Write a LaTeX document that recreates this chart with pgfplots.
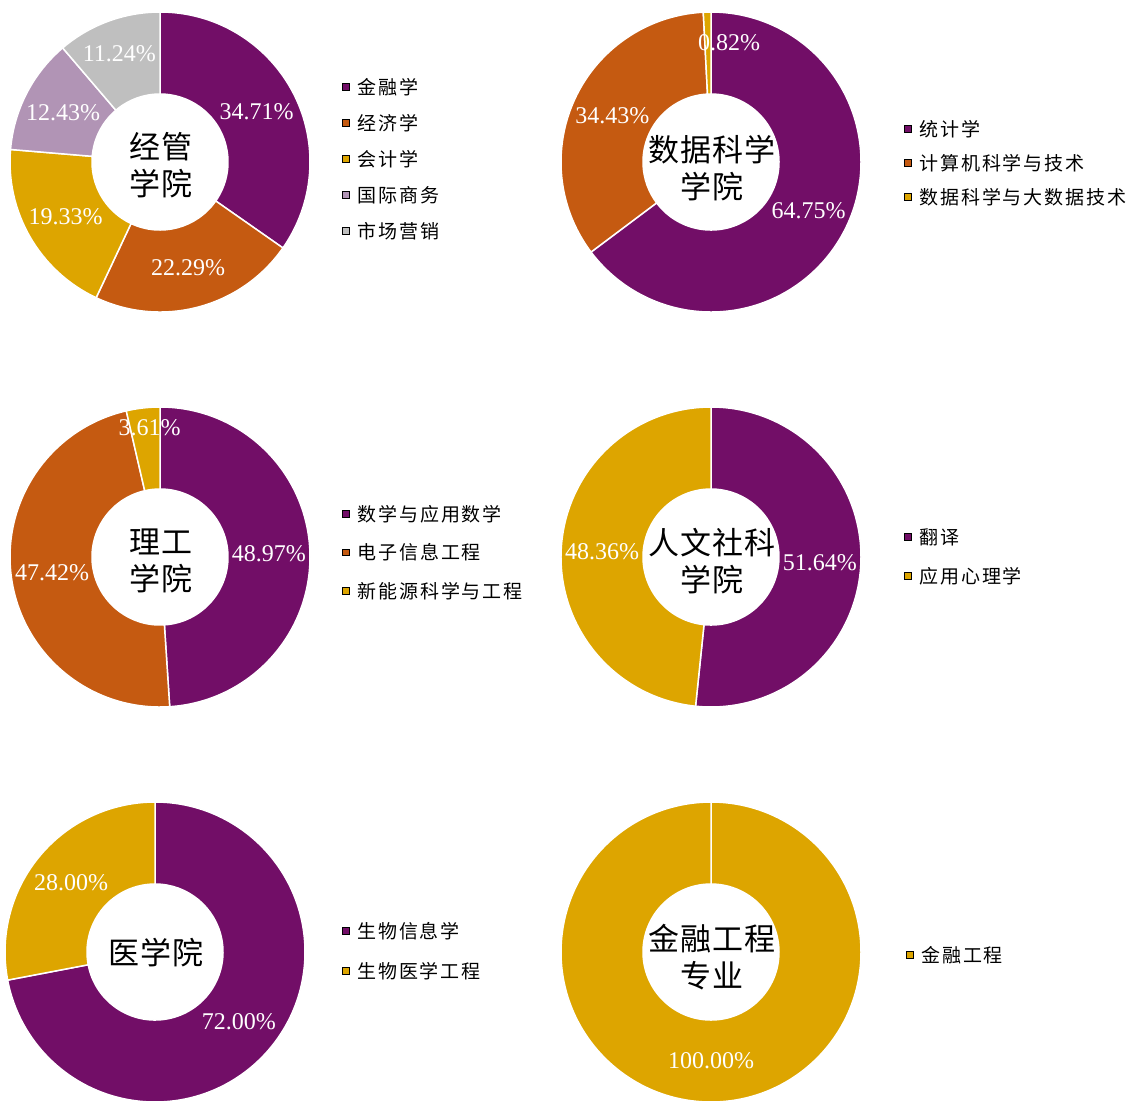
\documentclass[border=0pt]{standalone}
\usepackage{pgfplots}
\usepackage{pgfplotstable}
\pgfplotsset{compat=1.18}
\usepackage{fontspec}
\setmainfont{Liberation Serif}
\newfontfamily\cjk[LetterSpace=3]{Noto Sans CJK SC}
\newfontfamily\cjkleg[LetterSpace=10]{Noto Sans CJK SC}

\definecolor{cP}{HTML}{720E67}
\definecolor{cO}{HTML}{C55A11}
\definecolor{cG}{HTML}{DDA500}
\definecolor{cL}{HTML}{B194B5}
\definecolor{cS}{HTML}{BFBFBF}

% share in percent, colour, label nudge (px)
\pgfplotstableread{
share color dx dy
34.71 cP 0 0
22.29 cO 0 0
19.33 cG 0 0
12.43 cL 0 0
11.24 cS -3 6
}\jgxy
\pgfplotstableread{
share color dx dy
64.75 cP 0 0
34.43 cO 0 0
0.82  cG 21 10
}\sjkx
\pgfplotstableread{
share color dx dy
48.97 cP 0 0
47.42 cO 0 0
3.61  cG 2 21
}\lgxy
\pgfplotstableread{
share color dx dy
51.64 cP 0 0
48.36 cG 0 0
}\rwsk
\pgfplotstableread{
share color dx dy
72.00 cP 0 0
28.00 cG 0 0
}\yxy
\pgfplotstableread{
share color dx dy
100.00 cG 0 0
}\jrgc

\pgfplotsset{donut/.style={
  x=0.5pt, y=0.5pt, xmin=-160, xmax=160, ymin=-160, ymax=160,
  hide axis, clip=false, anchor=center,
  legend image code/.code={\fill[##1] (0pt,-1.65pt) rectangle (3.3pt,1.65pt);},
  legend cell align=left,
  legend style={draw=none, fill=none, inner sep=0pt, anchor=west,
    font=\cjkleg\fontsize{9.5}{11}\selectfont,
    nodes={inner xsep=3.8pt, inner ysep=0pt, text height=8.4pt, text depth=1.2pt}},
}}

% #1 table, #2 centre text, #3 vertical shift of centre text (px)
\newcommand\ring[3]{%
  \pgfplotsextra{%
    \pgfplotstablegetrowsof{#1}%
    \pgfmathtruncatemacro\nlast{\pgfplotsretval-1}%
    \gdef\cum{0}%
    \foreach \i in {0,...,\nlast}{%
      \pgfplotstablegetelem{\i}{share}\of{#1}\let\val\pgfplotsretval
      \pgfplotstablegetelem{\i}{color}\of{#1}\let\clr\pgfplotsretval
      \pgfmathsetmacro\sA{90-3.6*\cum}%
      \pgfmathsetmacro\sB{90-3.6*(\cum+\val)}%
      \fill[fill=\clr, draw=white, line width=0.75pt]
        (axis cs:{150*cos(\sA)},{150*sin(\sA)}) arc[start angle=\sA, end angle=\sB, radius=75pt]
        -- (axis cs:{68*cos(\sB)},{68*sin(\sB)}) arc[start angle=\sB, end angle=\sA, radius=34pt] -- cycle;
      \pgfmathsetmacro\ncum{\cum+\val}\global\let\cum\ncum
    }%
    \gdef\cum{0}%
    \foreach \i in {0,...,\nlast}{%
      \pgfplotstablegetelem{\i}{share}\of{#1}\let\val\pgfplotsretval
      \pgfplotstablegetelem{\i}{dx}\of{#1}\let\ddx\pgfplotsretval
      \pgfplotstablegetelem{\i}{dy}\of{#1}\let\ddy\pgfplotsretval
      \pgfmathsetmacro\sM{90-3.6*(\cum+\val/2)}%
      \node[text=white, font=\fontsize{12}{14}\selectfont, inner sep=0pt]
        at (axis cs:{109*cos(\sM)+\ddx},{109*sin(\sM)+\ddy}) {\val\%};
      \pgfmathsetmacro\ncum{\cum+\val}\global\let\cum\ncum
    }%
    \node[font=\cjk\fontsize{15.5}{18.5}\selectfont, align=center] at (axis cs:1,#3) {#2};
  }}

\begin{document}
\begin{tikzpicture}
\useasboundingbox (0,0) rectangle (565.5pt,-550pt);

\begin{axis}[donut, at={(80pt,-81pt)},
  legend style={at={(1.069,0.509)}, row sep=8.4pt}]
  \addlegendimage{fill=cP}\addlegendentry{金融学}
  \addlegendimage{fill=cO}\addlegendentry{经济学}
  \addlegendimage{fill=cG}\addlegendentry{会计学}
  \addlegendimage{fill=cL}\addlegendentry{国际商务}
  \addlegendimage{fill=cS}\addlegendentry{市场营销}
  \ring{\jgxy}{经管\\学院}{-3}
\end{axis}

\begin{axis}[donut, at={(355.5pt,-81pt)},
  legend style={at={(1.103,0.497)}, row sep=7.4pt}]
  \addlegendimage{fill=cP}\addlegendentry{统计学}
  \addlegendimage{fill=cO}\addlegendentry{计算机科学与技术}
  \addlegendimage{fill=cG}\addlegendentry{数据科学与大数据技术}
  \ring{\sjkx}{数据科学\\学院}{-6}
\end{axis}

\begin{axis}[donut, at={(80pt,-278.5pt)},
  legend style={at={(1.069,0.514)}, row sep=9.65pt}]
  \addlegendimage{fill=cP}\addlegendentry{数学与应用数学}
  \addlegendimage{fill=cO}\addlegendentry{电子信息工程}
  \addlegendimage{fill=cG}\addlegendentry{新能源科学与工程}
  \ring{\lgxy}{理工\\学院}{-3.5}
\end{axis}

\begin{axis}[donut, at={(355.5pt,-278.5pt)},
  legend style={at={(1.103,0.502)}, row sep=9.9pt}]
  \addlegendimage{fill=cP}\addlegendentry{翻译}
  \addlegendimage{fill=cG}\addlegendentry{应用心理学}
  \ring{\rwsk}{人文社科\\学院}{-4.5}
\end{axis}

\begin{axis}[donut, at={(77.5pt,-476pt)},
  legend style={at={(1.084,0.503)}, row sep=10.4pt}]
  \addlegendimage{fill=cP}\addlegendentry{生物信息学}
  \addlegendimage{fill=cG}\addlegendentry{生物医学工程}
  \ring{\yxy}{医学院}{-1}
\end{axis}

\begin{axis}[donut, at={(355.5pt,-476pt)},
  legend style={at={(1.109,0.491)}}]
  \addlegendimage{fill=cG}\addlegendentry{金融工程}
  \ring{\jrgc}{金融工程\\专业}{-5}
\end{axis}
\end{tikzpicture}
\end{document}
